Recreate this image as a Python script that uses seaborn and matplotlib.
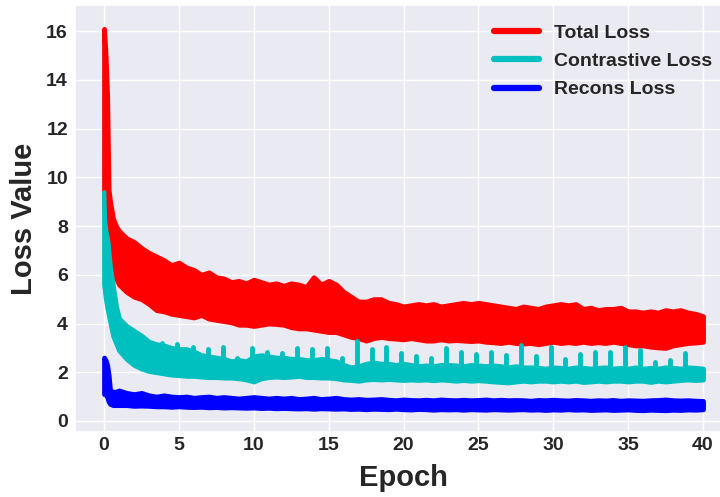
import pandas as pd
import seaborn as sns
import matplotlib.pyplot as plt

epochs = [0, 0.1, 0.2, 0.3, 0.4, 0.6, 0.8] + [1 + 0.5 * i for i in range(79)]

total_hi = [16.1, 15.0, 13.4, 9.5, 9.0, 8.3, 8.0,
            7.8, 7.5, 7.35, 7.1, 6.9, 6.75, 6.6, 6.4, 6.5, 6.3,
            6.2, 6.0, 6.1, 5.9, 5.85, 5.7, 5.75, 5.65, 5.8, 5.7,
            5.6, 5.65, 5.55, 5.65, 5.6, 5.5, 5.9, 5.6, 5.75, 5.6,
            5.3, 5.1, 4.9, 4.9, 5.0, 5.0, 4.85, 4.8, 4.7, 4.75,
            4.8, 4.75, 4.8, 4.7, 4.75, 4.8, 4.85, 4.8, 4.85, 4.8,
            4.75, 4.7, 4.65, 4.6, 4.7, 4.65, 4.6, 4.7, 4.75, 4.8,
            4.75, 4.8, 4.6, 4.65, 4.55, 4.6, 4.6, 4.65, 4.5, 4.5,
            4.45, 4.5, 4.45, 4.55, 4.5, 4.55, 4.45, 4.4, 4.3]
total_lo = [9.1, 8.1, 7.4, 6.9, 6.5, 6.1, 5.85,
            5.6, 5.3, 5.1, 5.0, 4.8, 4.55, 4.5, 4.4, 4.35, 4.3,
            4.25, 4.35, 4.2, 4.15, 4.1, 4.05, 3.95, 3.95, 3.9, 3.95,
            4.0, 3.98, 3.95, 3.85, 3.8, 3.8, 3.75, 3.7, 3.65, 3.65,
            3.55, 3.45, 3.4, 3.3, 3.4, 3.45, 3.4, 3.38, 3.35, 3.4,
            3.35, 3.3, 3.3, 3.35, 3.3, 3.32, 3.3, 3.28, 3.3, 3.25,
            3.23, 3.2, 3.25, 3.2, 3.18, 3.2, 3.15, 3.2, 3.25, 3.2,
            3.23, 3.2, 3.25, 3.2, 3.23, 3.2, 3.25, 3.2, 3.15, 3.1,
            3.1, 3.05, 3.02, 3.0, 3.1, 3.15, 3.2, 3.22, 3.25]

contr_hi = [9.4, 8.4, 7.7, 6.9, 6.3, 5.5, 4.7,
            4.2, 3.9, 3.7, 3.5, 3.25, 3.15, 3.1, 3.0, 2.95, 2.95,
            2.85, 2.7, 2.65, 2.6, 2.55, 2.45, 2.5, 2.45, 2.65, 2.7,
            2.65, 2.6, 2.6, 2.55, 2.55, 2.5, 2.5, 2.55, 2.5, 2.45,
            2.3, 2.2, 2.25, 2.35, 2.4, 2.35, 2.35, 2.3, 2.35, 2.3,
            2.25, 2.28, 2.25, 2.3, 2.3, 2.28, 2.25, 2.3, 2.28, 2.25,
            2.28, 2.25, 2.2, 2.25, 2.2, 2.2, 2.18, 2.15, 2.2, 2.18,
            2.15, 2.2, 2.18, 2.15, 2.18, 2.2, 2.15, 2.18, 2.15, 2.2,
            2.15, 2.18, 2.15, 2.2, 2.18, 2.15, 2.2, 2.18, 2.15]
contr_lo = [5.6, 5.1, 4.7, 4.4, 4.1, 3.5, 3.2,
            2.9, 2.55, 2.3, 2.15, 2.05, 2.0, 1.95, 1.9, 1.88, 1.85,
            1.85, 1.82, 1.8, 1.8, 1.78, 1.78, 1.75, 1.7, 1.62, 1.75,
            1.8, 1.82, 1.8, 1.82, 1.85, 1.8, 1.8, 1.78, 1.78, 1.75,
            1.7, 1.68, 1.65, 1.7, 1.72, 1.7, 1.72, 1.7, 1.68, 1.7,
            1.68, 1.7, 1.67, 1.7, 1.68, 1.65, 1.68, 1.65, 1.67, 1.65,
            1.62, 1.6, 1.58, 1.62, 1.65, 1.62, 1.65, 1.65, 1.62, 1.65,
            1.62, 1.65, 1.6, 1.62, 1.65, 1.62, 1.65, 1.65, 1.62, 1.65,
            1.65, 1.6, 1.65, 1.62, 1.65, 1.68, 1.7, 1.68, 1.7]

recon_hi = [2.6, 2.5, 2.3, 1.9, 1.25, 1.2, 1.2,
            1.25, 1.15, 1.1, 1.15, 1.05, 1.0, 1.05, 1.0, 0.98, 1.0,
            0.95, 0.98, 1.0, 0.95, 0.98, 0.95, 0.92, 0.95, 0.98, 0.95,
            0.92, 0.95, 0.92, 0.95, 0.9, 0.92, 0.95, 0.9, 0.92, 0.95,
            0.9, 0.88, 0.9, 0.87, 0.88, 0.9, 0.87, 0.85, 0.88, 0.86,
            0.85, 0.87, 0.85, 0.88, 0.86, 0.85, 0.87, 0.85, 0.86, 0.88,
            0.85, 0.87, 0.85, 0.86, 0.85, 0.83, 0.86, 0.85, 0.87, 0.85,
            0.84, 0.86, 0.85, 0.83, 0.85, 0.84, 0.86, 0.83, 0.85, 0.84,
            0.83, 0.85, 0.86, 0.88, 0.85, 0.84, 0.85, 0.83, 0.82]
recon_lo = [1.1, 1.1, 1.0, 0.8, 0.7, 0.65, 0.65,
            0.65, 0.65, 0.62, 0.63, 0.62, 0.6, 0.6, 0.58, 0.6, 0.58,
            0.57, 0.58, 0.56, 0.57, 0.55, 0.56, 0.55, 0.54, 0.55, 0.53,
            0.54, 0.52, 0.53, 0.52, 0.51, 0.52, 0.5, 0.52, 0.51, 0.5,
            0.51, 0.49, 0.5, 0.48, 0.5, 0.49, 0.48, 0.5, 0.48, 0.47,
            0.49, 0.48, 0.46, 0.48, 0.47, 0.48, 0.46, 0.48, 0.47, 0.46,
            0.48, 0.47, 0.46, 0.47, 0.48, 0.46, 0.47, 0.45, 0.47, 0.46,
            0.48, 0.46, 0.47, 0.45, 0.46, 0.47, 0.45, 0.46, 0.47, 0.45,
            0.44, 0.46, 0.45, 0.44, 0.46, 0.45, 0.47, 0.46, 0.48]

# once-per-epoch spikes of the contrastive loss
spike_epochs = [3.9, 4.9, 5.95, 6.95, 7.95, 8.9, 9.9, 10.9, 11.85, 12.9, 13.9, 14.9,
                15.9, 16.9, 17.9, 18.85, 19.85, 20.85, 21.85, 22.85, 23.85, 24.85,
                25.85, 26.85, 27.85, 28.85, 29.85, 30.8, 31.8, 32.8, 33.8, 34.8,
                35.8, 36.8, 37.8, 38.8]
spike_tops = [3.2, 3.15, 3.05, 2.95, 3.05, 2.6, 3.0, 2.85, 2.8, 3.0, 2.95, 3.0,
              2.6, 3.3, 2.95, 3.05, 2.8, 2.65, 2.6, 3.0, 2.85, 2.75,
              2.85, 2.7, 3.1, 2.65, 3.05, 2.55, 2.73, 2.83, 2.83, 3.05,
              2.9, 2.4, 2.52, 2.8]

names = ["Total Loss", "Contrastive Loss", "Recons Loss"]
colors = {"Total Loss": "#ff0000", "Contrastive Loss": "#00bfbf", "Recons Loss": "#0000ff"}

frames = []
for name, lo, hi in zip(names, [total_lo, contr_lo, recon_lo], [total_hi, contr_hi, recon_hi]):
    frames.append(pd.DataFrame({"Epoch": epochs + epochs, "Loss": lo + hi, "kind": name}))
df = pd.concat(frames, ignore_index=True)

sns.set_theme(style="darkgrid")
plt.rcParams["font.family"] = ["Liberation Sans", "DejaVu Sans"]
plt.rcParams["font.weight"] = "bold"

fig = plt.figure(figsize=(7.2, 4.97), dpi=100)
ax = fig.add_axes([0.104, 0.131, 0.914, 0.859])

sns.lineplot(
    df, x="Epoch", y="Loss", hue="kind", hue_order=names, palette=colors,
    estimator="mean", errorbar=("pi", 100),
    err_kws={"alpha": 1, "linewidth": 3.5, "joinstyle": "round"}, linewidth=2, ax=ax,
)
spikes = ax.vlines(spike_epochs, 2.0, spike_tops, color="#00bfbf", linewidth=3.5)
spikes.set_capstyle("round")

ax.set_xlim(-1.95, 42)
ax.set_ylim(-0.45, 17.08)
ax.set_xticks(range(0, 41, 5))
ax.set_yticks(range(0, 17, 2))
ax.tick_params(labelsize=14, length=0)
ax.tick_params(axis="x", pad=4)
ax.tick_params(axis="y", pad=5)
for lab in ax.get_xticklabels() + ax.get_yticklabels():
    lab.set_fontweight("bold")
ax.set_xlabel("Epoch", fontsize=21, fontweight="bold", labelpad=7)
ax.set_ylabel("Loss Value", fontsize=21, fontweight="bold", labelpad=6)

leg = ax.legend(loc="upper right", bbox_to_anchor=(1.0, 0.967), bbox_transform=fig.transFigure,
                borderaxespad=0, frameon=False, fontsize=14, handlelength=2.3,
                labelspacing=0.55, title=None)
for h in leg.get_lines():
    h.set_linewidth(4.5)
    h.set_solid_capstyle("round")
for t in leg.get_texts():
    t.set_fontweight("bold")

fig.savefig("out.png", dpi=100)
